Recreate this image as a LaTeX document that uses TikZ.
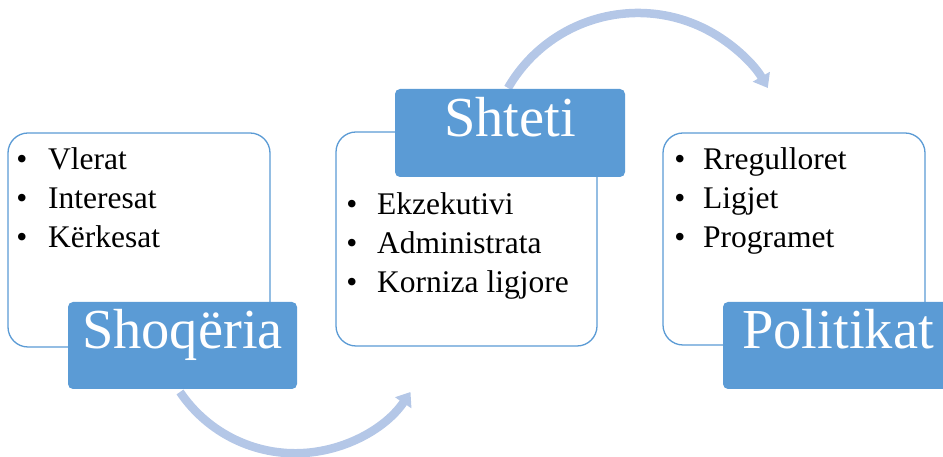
\documentclass[tikz,border=0pt]{standalone}
\usepackage{fontspec}
\setmainfont{Liberation Serif}
\usetikzlibrary{arrows.meta}
\definecolor{lblue}{HTML}{5B9BD5}
\definecolor{arrowblue}{HTML}{B4C7E7}
\tikzset{
  panel/.style={draw=lblue, line width=1.3pt, fill=white, rounded corners=20pt},
  label/.style={fill=lblue, rounded corners=5pt, text=white, inner sep=0pt,
     font=\fontsize{56.5}{60}\selectfont, text height=0.8em, text depth=0.1em},
  bul/.style={anchor=base, inner sep=0pt, font=\fontsize{31.5}{37}\selectfont},
  item/.style={anchor=base west, inner sep=0pt, font=\fontsize{31.5}{37}\selectfont},
  flow/.style={draw=arrowblue, line width=8.5pt, -{Triangle[width=19pt,length=13pt]}}
}
\begin{document}
\begin{tikzpicture}[x=1pt,y=1pt]
\clip (0,0) rectangle (943,457);
% panels
\draw[panel] (8,110) rectangle (270,324);
\draw[panel] (336,111) rectangle (597,325);
\draw[panel] (663,112) rectangle (925,324);
% arcs
\coordinate (a1) at (180,65);
\coordinate (a2) at (508,369);
\draw[flow] (a1) arc[start angle=214, end angle=326, radius=139pt] coordinate (b1);
\draw[flow] (a2) arc[start angle=150, end angle=30, radius=150pt] coordinate (b2);
% labels
\node[label, minimum width=229pt, minimum height=87pt] (l1) at (182.5,111.5) {Shoqëria};
\node[label, minimum width=230pt, minimum height=88pt] (l2) at (510,324) {Shteti};
\node[label, minimum width=230pt, minimum height=87pt] (l3) at (838,111.5) {Politikat};
% items box 1
\node[bul] (p1b1) at (22,287) {•}; \node[item] (p1t1) at (48,287) {Vlerat};
\node[bul] (p1b2) at (22,248) {•}; \node[item] (p1t2) at (48,248) {Interesat};
\node[bul] (p1b3) at (22,209) {•}; \node[item] (p1t3) at (48,209) {Kërkesat};
% items box 2
\node[bul] (p2b1) at (352,242) {•}; \node[item] (p2t1) at (377,242) {Ekzekutivi};
\node[bul] (p2b2) at (352,203) {•}; \node[item] (p2t2) at (377,203) {Administrata};
\node[bul] (p2b3) at (352,164) {•}; \node[item] (p2t3) at (377,164) {Korniza ligjore};
% items box 3
\node[bul] (p3b1) at (680,287) {•}; \node[item] (p3t1) at (703,287) {Rregulloret};
\node[bul] (p3b2) at (680,248) {•}; \node[item] (p3t2) at (703,248) {Ligjet};
\node[bul] (p3b3) at (680,209) {•}; \node[item] (p3t3) at (703,209) {Programet};
\end{tikzpicture}
\end{document}
